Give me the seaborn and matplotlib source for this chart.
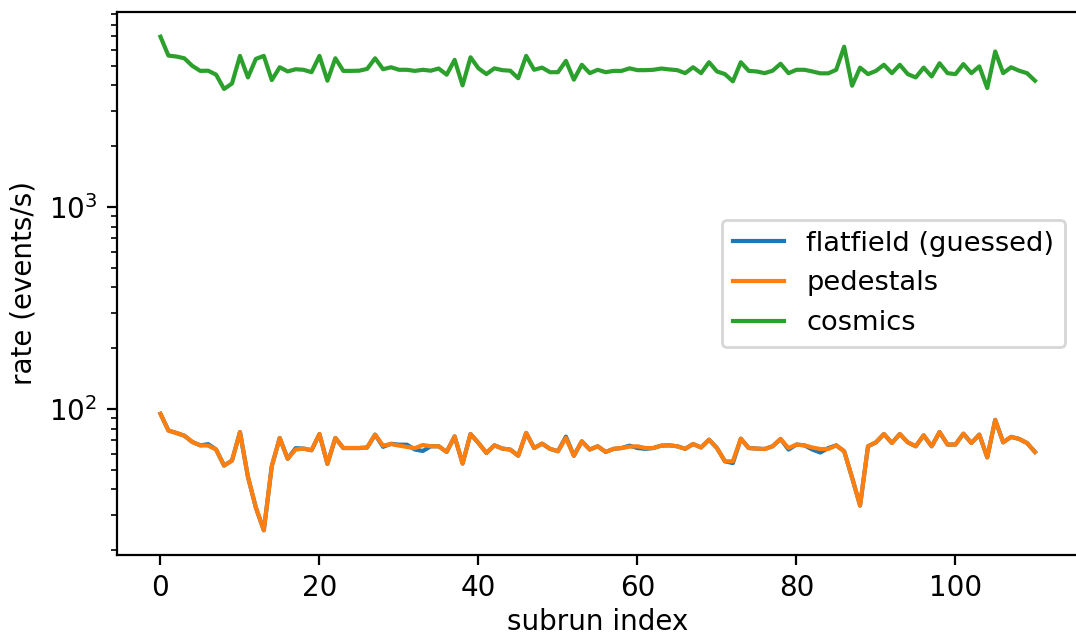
import matplotlib
matplotlib.use("Agg")
import matplotlib.pyplot as plt
import pandas as pd
import numpy as np
import seaborn as sns

# rates per subrun
cosmics = [6970, 5620, 5560, 5450, 5000, 4720, 4730, 4520, 3840, 4090,
           5600, 4380, 5410, 5600, 4250, 4920, 4690, 4810, 4780, 4650,
           5600, 4220, 5450, 4720, 4720, 4730, 4830, 5450, 4810, 4920,
           4780, 4780, 4720, 4780, 4730, 4850, 4520, 5350, 4000, 5510,
           4860, 4550, 4860, 4760, 4730, 4340, 5600, 4780, 4900, 4650,
           4650, 5290, 4270, 5060, 4600, 4780, 4650, 4720, 4720, 4860,
           4760, 4760, 4780, 4850, 4800, 4760, 4600, 4920, 4600, 5210,
           4690, 4550, 4190, 5210, 4720, 4690, 4600, 4730, 5120, 4600,
           4780, 4780, 4690, 4590, 4590, 4780, 6220, 3985, 4900, 4550,
           4720, 5060, 4600, 5060, 4550, 4380, 4900, 4430, 5150, 4600,
           4550, 5100, 4600, 4970, 3880, 5890, 4600, 4920, 4730, 4600,
           4220]

pedestals = [94.7, 78.3, 76.1, 73.8, 68.7, 66.1, 65.9, 63.0, 52.5, 55.6,
             76.9, 46.2, 32.5, 25.1, 52.1, 71.9, 56.7, 63.0, 63.7, 62.5,
             75.2, 53.5, 71.9, 64.1, 64.1, 64.1, 64.5, 74.7, 65.9, 67.1,
             65.9, 64.9, 64.0, 66.4, 65.4, 65.4, 61.3, 73.2, 53.7, 75.2,
             67.9, 60.6, 66.1, 63.7, 63.0, 58.7, 76.1, 64.1, 67.4, 63.5,
             61.8, 71.9, 58.7, 69.2, 63.0, 65.4, 61.3, 63.5, 64.1, 65.1,
             65.4, 64.1, 64.1, 65.9, 66.1, 65.4, 63.5, 67.1, 64.5, 70.5,
             64.1, 55.1, 55.1, 71.3, 64.1, 63.7, 63.4, 65.4, 71.1, 64.1,
             66.7, 66.1, 64.5, 63.4, 63.4, 66.1, 61.8, 45.7, 33.3, 65.4,
             68.4, 75.2, 67.9, 75.2, 68.4, 65.4, 74.1, 65.4, 76.9, 66.7,
             66.7, 75.5, 67.9, 74.7, 57.6, 88.4, 68.4, 72.8, 71.1, 67.9,
             61.3]

flatfield = [94.7, 78.3, 76.1, 73.8, 68.7, 66.1, 67.0, 63.0, 52.5, 55.6,
             76.9, 46.2, 32.5, 25.1, 52.1, 71.9, 56.7, 64.0, 63.7, 62.5,
             75.2, 53.5, 71.9, 64.1, 64.1, 64.1, 64.5, 74.7, 65.0, 67.3,
             66.6, 66.6, 63.0, 62.0, 65.4, 65.4, 61.3, 73.2, 53.7, 75.2,
             67.9, 60.6, 66.1, 63.7, 63.0, 58.7, 76.1, 64.1, 67.4, 63.5,
             61.8, 73.0, 58.7, 69.2, 63.0, 65.4, 61.3, 63.5, 64.1, 65.9,
             64.1, 63.5, 64.1, 65.9, 66.1, 65.4, 63.5, 67.1, 64.5, 70.5,
             64.1, 55.1, 54.0, 71.3, 64.1, 63.7, 63.4, 65.4, 71.1, 63.0,
             66.7, 66.1, 63.0, 60.9, 64.1, 66.1, 61.8, 45.7, 33.3, 65.4,
             68.4, 75.2, 67.9, 75.2, 68.4, 65.4, 74.1, 65.4, 76.9, 66.7,
             66.7, 75.5, 67.9, 74.7, 57.6, 88.4, 68.4, 72.8, 71.1, 67.9,
             61.3]

labels = ["flatfield (guessed)", "pedestals", "cosmics"]

subrun = np.arange(len(cosmics))
df = pd.concat([
    pd.DataFrame({"subrun": subrun, "rate": flatfield, "kind": labels[0]}),
    pd.DataFrame({"subrun": subrun, "rate": pedestals, "kind": labels[1]}),
    pd.DataFrame({"subrun": subrun, "rate": cosmics, "kind": labels[2]}),
])

fig = plt.figure(figsize=(5.38, 3.195), dpi=200)
ax = fig.add_axes([0.1085, 0.1315, 0.894, 0.8497])

sns.lineplot(data=df, x="subrun", y="rate", hue="kind", hue_order=labels,
             palette=["#1f77b4", "#ff7f0e", "#2ca02c"], ax=ax)
ax.set_yscale("log")
ax.set_xlabel("subrun index", labelpad=2.0)
ax.set_ylabel("rate (events/s)")
ax.legend(loc="center right", fontsize=9.8, handlelength=1.9)

fig.savefig("out.png", dpi=200)
